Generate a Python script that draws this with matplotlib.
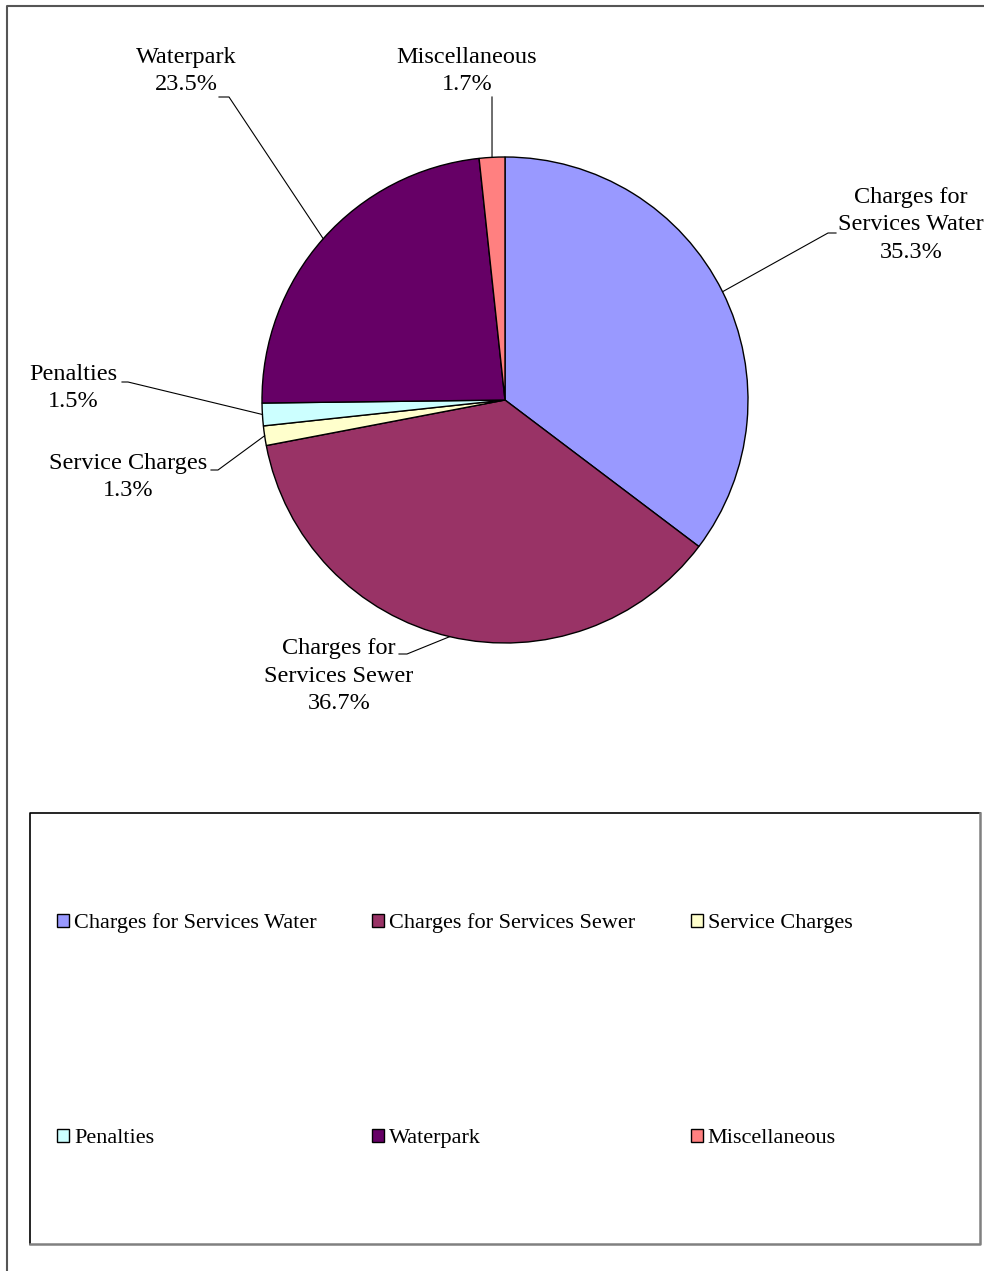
import numpy as np
import matplotlib.pyplot as plt

plt.rcParams['font.family'] = ['Liberation Serif', 'DejaVu Serif']

# revenue split by source (percent of total)
categories = ['Charges for Services Water', 'Charges for Services Sewer', 'Service Charges',
              'Penalties', 'Waterpark', 'Miscellaneous']
shares = [35.3, 36.7, 1.3, 1.5, 23.5, 1.7]
colors = ['#9999FF', '#993366', '#FFFFCC', '#CCFFFF', '#660066', '#FF8080']
# slice captions as they wrap next to the pie
captions = ['Charges for\nServices Water', 'Charges for\nServices Sewer', 'Service Charges',
            'Penalties', 'Waterpark', 'Miscellaneous']

W, H = 984, 1271
CX, CY, R = 505, 400, 243   # pie centre / radius in pixels (y from top)

# caption centres and leader-line elbow/end points, pixels from top-left
cap_xy = [(911, 225), (339, 676), (128, 477), (73, 388), (186, 71), (467, 71)]
elbow = [(828, 233), (407, 654), (218, 470), (128, 382), (229, 97), (492, 97)]
tail = [(836, 233), (399, 654), (211, 470), (122, 382), (219, 97), (492, 97)]

CAP_FS = 17.5
LEG_FS = 16

fig = plt.figure(figsize=(W / 100, H / 100), dpi=100)
ax = fig.add_axes([0, 0, 1, 1])

wedges, _ = ax.pie(shares, colors=colors, startangle=90, counterclock=False,
                   center=(CX, H - CY), radius=R,
                   wedgeprops=dict(edgecolor='black', linewidth=1.0))
ax.set_xlim(0, W)
ax.set_ylim(0, H)
ax.set_aspect('equal')
ax.axis('off')

for w, cap, val, (tx, ty), (ex, ey), (sx, sy) in zip(wedges, captions, shares, cap_xy, elbow, tail):
    mid = np.deg2rad((w.theta1 + w.theta2) / 2)
    px = CX + R * np.cos(mid)
    py = H - CY + R * np.sin(mid)
    ax.plot([px, ex, sx], [py, H - ey, H - sy], color='black', lw=0.8)
    ax.text(tx, H - ty, f'{cap}\n{val:.1f}%', ha='center', va='center',
            fontsize=CAP_FS, linespacing=1.42)

# outer chart border (only top and left fall inside the image)
ax.plot([7, 7, W], [0, H - 6, H - 6], color='#555555', lw=1.5, solid_capstyle='butt')

# legend box: dark top/left, grey bottom/right
lx0, ly0, lx1, ly1 = 30, 813, 980, 1244
ax.plot([lx0, lx0, lx1], [H - ly1, H - ly0, H - ly0], color='black', lw=1.2)
ax.plot([lx0, lx1, lx1], [H - ly1, H - ly1, H - ly0], color='#808080', lw=1.8)

# legend fills columns first, so reorder to read across rows
order = [0, 3, 1, 4, 2, 5]
fig.legend([wedges[i] for i in order], [categories[i] for i in order],
           ncol=3, loc='center left', bbox_to_anchor=(57 / W, 1 - 1031 / H),
           frameon=False, fontsize=LEG_FS, handlelength=0.54, handleheight=0.54,
           handletextpad=0.22, columnspacing=2.5, labelspacing=8.8,
           borderpad=0, borderaxespad=0)

fig.savefig('out.png', dpi=100)
